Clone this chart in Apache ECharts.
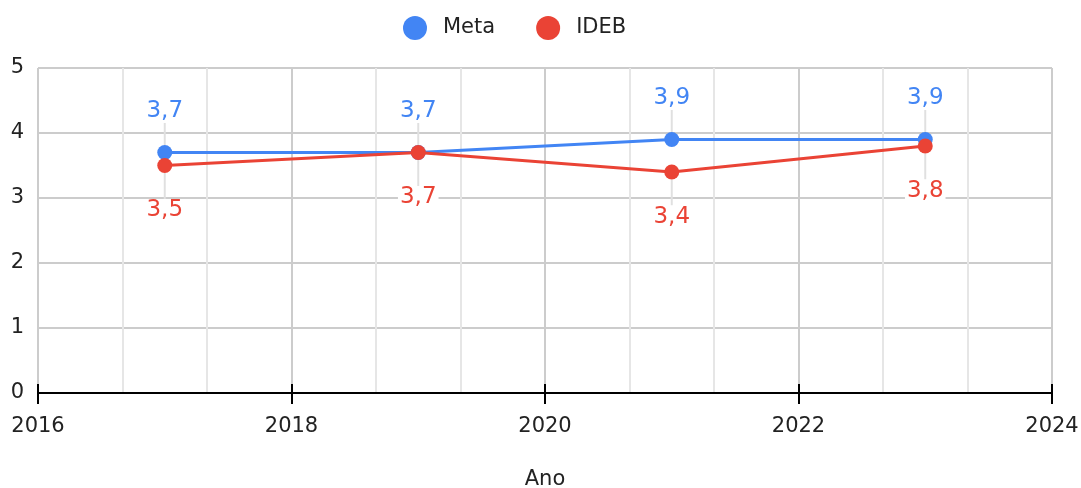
<!DOCTYPE html>
<html><head><meta charset="utf-8">
<script src="https://cdn.jsdelivr.net/npm/echarts@6/dist/echarts.min.js"></script>
<style>html,body{margin:0;padding:0;background:#fff}#c{width:1081px;height:488px}</style>
</head><body><div id="c"></div>
<script>
const years = [2017, 2019, 2021, 2023];
const meta = [3.7, 3.7, 3.9, 3.9];
const ideb = [3.5, 3.7, 3.4, 3.8];
const xTicks = [2016, 2018, 2020, 2022, 2024];
const yTicks = [0, 1, 2, 3, 4, 5];
const BLUE = '#4285F4', RED = '#EA4335';
const fmt = v => String(v).replace('.', ',');
const chart = echarts.init(document.getElementById('c'));
const font = '"DejaVu Sans", Arial, sans-serif';
function mk(name, vals, color, dy) {
  return {
    name, type: 'line', data: years.map((y, i) => [y, vals[i]]),
    symbol: 'circle', symbolSize: 15, color,
    lineStyle: {width: 3, color}, itemStyle: {color},
    label: {show: true, position: 'inside', formatter: p => fmt(p.value[1]), color, fontSize: 23, fontFamily: font,
      backgroundColor: '#fff', padding: [0, 2]},
    labelLayout: {dy: dy},
    labelLine: {show: true, lineStyle: {color: '#e0e0e0', width: 2}},
    z: name === 'IDEB' ? 3 : 2
  };
}
chart.setOption({
  animation: false,
  textStyle: {fontFamily: font},
  legend: {top: 11, left: 398, itemWidth: 24, itemHeight: 24, itemGap: 41, icon: 'circle',
    textStyle: {fontSize: 21, color: '#222', fontFamily: font, padding: [0, 0, 0, 11]},
    data: ['Meta', 'IDEB']},
  grid: {left: 38, right: 29, top: 68, bottom: 95, outerBoundsMode: 'none', containLabel: false},
  xAxis: [{
    type: 'value', min: xTicks[0], max: xTicks[xTicks.length - 1], interval: 2,
    name: 'Ano', nameLocation: 'middle', nameGap: 76, nameTextStyle: {fontSize: 21, color: '#222'},
    axisLine: {show: true, lineStyle: {color: '#000', width: 2}},
    axisTick: {show: true, length: 11, lineStyle: {color: '#000', width: 2}},
    axisLabel: {fontSize: 21, color: '#222', margin: 23, formatter: v => String(v)},
    splitLine: {show: true, lineStyle: {color: '#cccccc', width: 2}},
    minorTick: {show: false, splitNumber: 3},
    minorSplitLine: {show: true, lineStyle: {color: '#e6e6e6', width: 2}}
  }, {
    type: 'value', min: xTicks[0], max: xTicks[xTicks.length - 1], interval: 2, position: 'bottom',
    axisLine: {show: false}, axisTick: {show: true, inside: true, length: 9, lineStyle: {color: '#000', width: 2}},
    axisLabel: {show: false}, splitLine: {show: false}
  }],
  yAxis: {
    type: 'value', min: 0, max: 5, interval: 1,
    axisLine: {show: false}, axisTick: {show: false},
    axisLabel: {fontSize: 21, color: '#222', margin: 14},
    splitLine: {show: true, lineStyle: {color: '#cccccc', width: 2}}
  },
  series: [mk('Meta', meta, BLUE, -41), mk('IDEB', ideb, RED, 45)]
});
</script></body></html>
